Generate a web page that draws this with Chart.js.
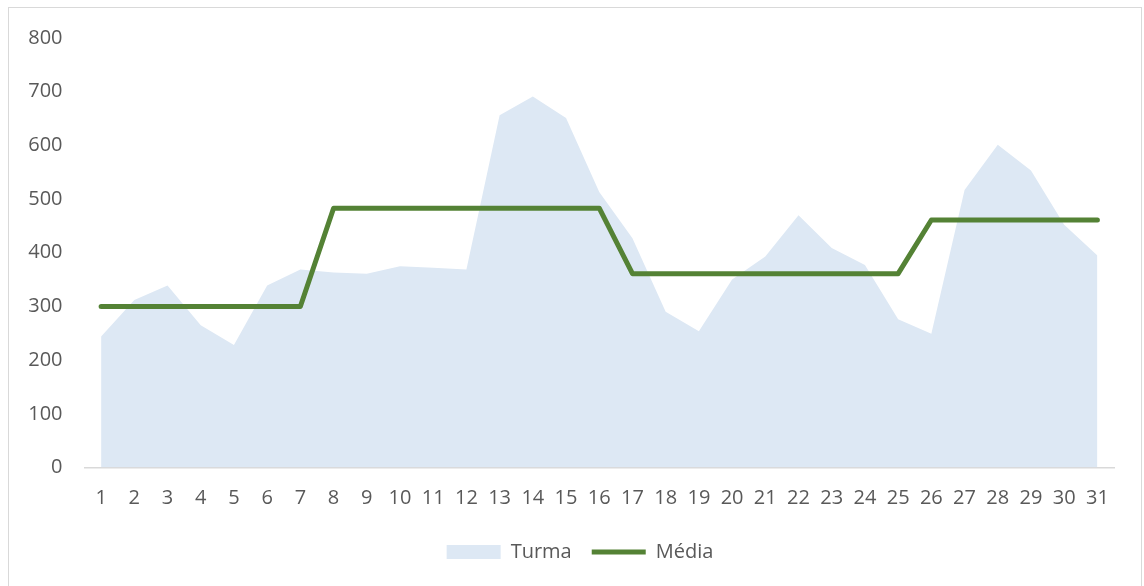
<!DOCTYPE html>
<html>
<head>
<meta charset="utf-8">
<script src="https://cdn.jsdelivr.net/npm/chart.js@4"></script>
<style>
  html, body { margin: 0; padding: 0; background: #fff; }
  body { width: 1144px; height: 586px; position: relative; overflow: hidden; }
  #frame { position: absolute; left: 8px; top: 7px; width: 1132px; height: 620px; border: 1.5px solid #d9d9d9; }
  #chart { position: absolute; left: 0; top: 0; }
</style>
</head>
<body>
<div id="frame"></div>
<canvas id="chart" width="1144" height="586"></canvas>
<script>
const days = ['1','2','3','4','5','6','7','8','9','10','11','12','13','14','15','16',
    '17','18','19','20','21','22','23','24','25','26','27','28','29','30','31'];
const turma = [244, 312, 339, 265, 228, 339, 369, 363, 361, 375, 372, 369, 656, 691, 651, 513,
    427, 290, 254, 350, 393, 470, 409, 377, 276, 249, 517, 601, 553, 452, 395];
const media = [300, 300, 300, 300, 300, 300, 300, 483, 483, 483, 483, 483, 483, 483, 483, 483,
    361, 361, 361, 361, 361, 361, 361, 361, 361, 461, 461, 461, 461, 461, 461];

const textColor = '#595959';
const fontFamily = '"Open Sans", "Noto Sans", sans-serif';

// nudge the legend so it sits in the middle of the frame, not of the canvas minus padding
const legendShift = {
    id: 'legendShift',
    afterLayout(chart) {
        if (chart.legend) chart.legend.left += 46;
    }
};

const ctx = document.getElementById('chart').getContext('2d');
new Chart(ctx, {
    type: 'line',
    data: {
        labels: days,
        datasets: [{
            label: 'Turma',
            data: turma,
            backgroundColor: '#dde8f4',
            borderColor: '#dde8f4',
            borderWidth: 0,
            fill: 'origin',
            pointRadius: 0,
            pointStyle: 'rect',
            tension: 0
        }, {
            label: 'Média',
            data: media,
            borderColor: '#548235',
            backgroundColor: '#548235',
            borderWidth: 5,
            borderCapStyle: 'round',
            borderJoinStyle: 'round',
            fill: false,
            pointRadius: 0,
            pointStyle: 'line',
            tension: 0
        }]
    },
    options: {
        responsive: false,
        animation: false,
        layout: { padding: { top: 38, right: 30, bottom: 14, left: 0 } },
        scales: {
            x: {
                offset: true,
                grid: { display: false, drawTicks: false },
                border: { display: true, color: '#d9d9d9', width: 1.5 },
                ticks: { color: textColor, font: { family: fontFamily, size: 20 }, padding: 19, maxRotation: 0, autoSkip: false },
                afterFit: scale => { scale.height = 54.5; }
            },
            y: {
                min: 0,
                max: 800,
                grid: { display: false, drawTicks: false },
                border: { display: false },
                ticks: { stepSize: 100, color: textColor, font: { family: fontFamily, size: 20 }, padding: 22 },
                afterFit: scale => { scale.width = 84.5; }
            }
        },
        plugins: {
            filler: { drawTime: 'beforeDatasetsDraw' },
            tooltip: { enabled: false },
            legend: {
                position: 'bottom',
                labels: {
                    color: textColor,
                    font: { family: fontFamily, size: 20 },
                    usePointStyle: true,
                    pointStyleWidth: 54,
                    boxHeight: 14,
                    padding: 20
                }
            }
        }
    },
    plugins: [legendShift]
});
</script>
</body>
</html>
